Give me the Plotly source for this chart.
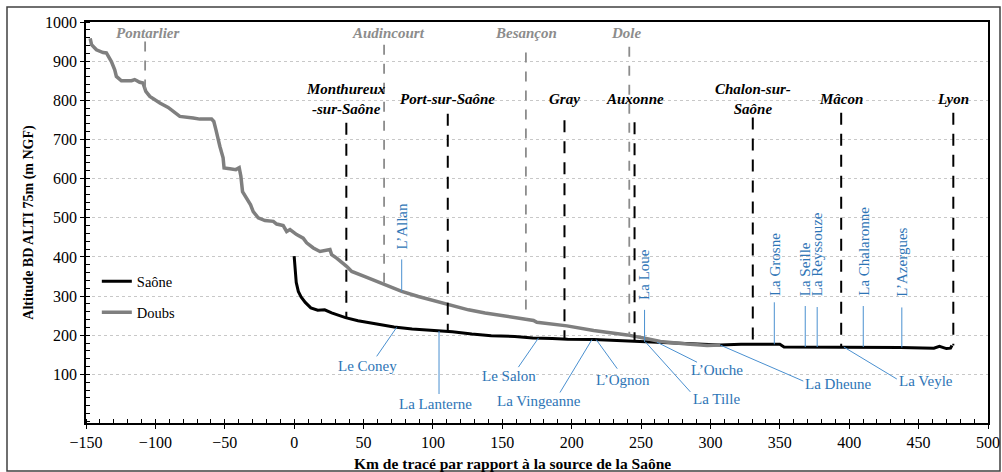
import numpy as np
import plotly.graph_objects as go

# ---------------- data ----------------
saone_km = [0, 0.5, 1.5, 3, 5, 8, 12, 17, 22, 27, 32, 37, 46, 58, 72, 85, 99, 114, 128,
            142, 159, 172, 186, 197, 216, 230, 245, 264, 283, 307, 322, 340, 350, 353,
            370, 394, 415, 437, 461, 465, 470, 473, 474]
saone_alt = [402, 370, 335, 312, 298, 284, 270, 264, 265, 257, 250, 245, 237, 230, 221,
             216, 212, 209, 203, 199, 197, 193, 192, 190, 189, 187, 184, 182, 178, 175,
             177, 177, 177, 170, 170, 170, 170, 169, 167, 172, 166, 167, 174]

doubs_km = [-147, -146, -142.5, -137.7, -135.3, -131.7, -129.3, -128.1, -124.5, -117.2,
            -114.9, -111.3, -108.9, -106.9, -104, -96.8, -90.8, -86, -82.4, -72.8, -68,
            -59.5, -57.9, -56.4, -55.5, -53.5, -51.2, -50.5, -46.3, -42, -39.6, -38.4,
            -37.2, -33.8, -31.4, -29.5, -25.9, -21, -15, -12.6, -7.9, -5.4, -3, 1.8, 6.5,
            9, 13.8, 18.6, 25.8, 27, 30.6, 37.8, 41.5, 51, 65.5, 77.5, 89.5, 101.6, 111.1,
            125.6, 137.6, 149.7, 162.9, 172.5, 174.9, 196.6, 215.8, 239.9, 251.8, 263.9,
            283.1, 297.6, 307]
doubs_alt = [958, 942, 929, 922, 921, 899, 878, 861, 850, 850, 853, 846, 844, 823, 810,
             793, 782, 768, 759, 755, 752, 752, 746, 725, 708, 682, 653, 627, 625, 623,
             628, 606, 567, 546, 533, 516, 500, 493, 491, 484, 480, 465, 470, 457, 448,
             436, 423, 414, 419, 406, 397, 376, 363, 350, 329, 312, 299, 287, 278, 265,
             257, 250, 244, 238, 233, 224, 212, 201, 193, 184, 178, 174, 175]

saone_cities = ["Monthureux<br>-sur-Saône", "Port-sur-Saône", "Gray", "Auxonne",
                "Chalon-sur-<br>Saône", "Mâcon", "Lyon"]
saone_city_km = [37.6, 110.7, 194.8, 245.3, 330.5, 394.2, 475]

doubs_cities = ["Pontarlier", "Audincourt", "Besançon", "Dole"]
doubs_city_km = [-107.4, 64.8, 167, 241.5]

trib_low_names = ["Le Coney", "La Lanterne", "Le Salon", "La Vingeanne", "L’Ognon",
                  "La Tille", "L’Ouche", "La Dheune", "La Veyle"]
trib_low_km = [73.9, 104.4, 176, 214.6, 217.7, 253.1, 261.5, 307.1, 396.1]

trib_up_names = ["La Loue", "La Grosne", "La Seille", "La Reyssouze", "La Chalaronne",
                 "L’Azergues"]
trib_up_km = [252.5, 346, 368.3, 376.9, 410.1, 437.9]

doubs_trib_names = ["L’Allan"]
doubs_trib_km = [77.5]

x_ticks = list(range(-150, 501, 50))
y_ticks = list(range(100, 1001, 100))

# ---------------- layout parameters (pixels) ----------------
low_text_off = [(-29, 39), (-4, 73), (-29, 38), (-53, 61), (27, 40), (71, 57), (60, 28),
                (118, 39), (82, 34)]
low_leader_off = [(-20, 29), (0, 63), (-20, 29), (-32, 53), (21, 29), (45, 50), (40, 20),
                  (83, 36), (53, 32)]
up_leader_len = [32, 42, 41, 40, 41, 40]
up_text_off = [40, 46, 49, 49, 49, 49]
doubs_trib_leader = [32]
doubs_trib_text = [40]

saone_line_top = [743, 766, 749, 744, 756, 768, 768]
doubs_line_top = [950, 942, 922, 937]
doubs_label_xshift = [3, 4, 0, -3]

SERIF = "Liberation Serif"
BLUE = "#2e75b6"
LEADER = "#4a90d0"
GREY_LINE = "#7f7f7f"
LABEL_SIZE = 15

fig = go.Figure()
fig.add_trace(go.Scatter(x=saone_km, y=saone_alt, mode="lines", name="Saône",
                         line=dict(color="black", width=3), legendgroup="s"))
fig.add_trace(go.Scatter(x=doubs_km, y=doubs_alt, mode="lines", name="Doubs",
                         line=dict(color=GREY_LINE, width=3.5), legendgroup="d"))

shapes = []
annotations = []

# Saône cities
for name, km, top in zip(saone_cities, saone_city_km, saone_line_top):
    bottom = float(np.interp(km, saone_km, saone_alt))
    shapes.append(dict(type="line", xref="x", yref="y", x0=km, x1=km, y0=top, y1=bottom,
                       line=dict(color="black", width=2, dash="12px,9px")))
    annotations.append(dict(x=km, y=804, xref="x", yref="y", text=name, showarrow=False,
                            xanchor="center", yanchor="middle",
                            font=dict(family=SERIF, size=LABEL_SIZE, color="black",
                                      style="italic", weight="bold")))

# Doubs cities
for name, km, top, xs in zip(doubs_cities, doubs_city_km, doubs_line_top, doubs_label_xshift):
    bottom = float(np.interp(km, doubs_km, doubs_alt))
    shapes.append(dict(type="line", xref="x", yref="y", x0=km, x1=km, y0=top, y1=bottom,
                       line=dict(color="#8c8c8c", width=1.8, dash="10px,9px")))
    annotations.append(dict(x=km, y=973, xref="x", yref="y", text=name, showarrow=False,
                            xanchor="center", yanchor="middle", xshift=xs,
                            font=dict(family=SERIF, size=LABEL_SIZE, color="#8c8c8c",
                                      style="italic", weight="bold")))

# lower tributaries with slanted leaders
for name, km, (tdx, tdy), (ldx, ldy) in zip(trib_low_names, trib_low_km, low_text_off,
                                            low_leader_off):
    alt = float(np.interp(km, saone_km, saone_alt))
    shapes.append(dict(type="line", xref="x", yref="y", xsizemode="pixel",
                       ysizemode="pixel", xanchor=km, yanchor=alt, x0=0, y0=0,
                       x1=ldx, y1=-ldy, line=dict(color=LEADER, width=1)))
    annotations.append(dict(x=km, y=alt, xref="x", yref="y", text=name, showarrow=False,
                            xanchor="center", yanchor="middle", xshift=tdx, yshift=-tdy,
                            font=dict(family=SERIF, size=LABEL_SIZE, color=BLUE)))


def vertical_label(name, km, alt, llen, toff):
    shapes.append(dict(type="line", xref="x", yref="y", xsizemode="pixel",
                       ysizemode="pixel", xanchor=km, yanchor=alt, x0=0, y0=0,
                       x1=0, y1=llen, line=dict(color=LEADER, width=1)))
    annotations.append(dict(x=km, y=alt, xref="x", yref="y", text=name, showarrow=False,
                            textangle=-90, xanchor="center", yanchor="bottom",
                            yshift=toff, font=dict(family=SERIF, size=LABEL_SIZE, color=BLUE)))


for name, km, llen, toff in zip(trib_up_names, trib_up_km, up_leader_len, up_text_off):
    vertical_label(name, km, float(np.interp(km, saone_km, saone_alt)), llen, toff)

for name, km, llen, toff in zip(doubs_trib_names, doubs_trib_km, doubs_trib_leader,
                                doubs_trib_text):
    vertical_label(name, km, float(np.interp(km, doubs_km, doubs_alt)), llen, toff)

# x-axis title (slightly left of centre as in the original)
annotations.append(dict(x=0.4725, y=-0.1, xref="paper", yref="paper", yanchor="middle",
                        text="Km de tracé par rapport à la source de la Saône",
                        showarrow=False,
                        font=dict(family=SERIF, size=15.5, color="black", weight="bold")))

# outer frame
W, H = 1002, 472
L, R, T, B = 86, 14, 22, 49
pw, ph = W - L - R, H - T - B
shapes.append(dict(type="rect", xref="paper", yref="paper",
                   x0=(7 - L) / pw, x1=(1000 - L) / pw,
                   y0=(H - B - 471) / ph, y1=(H - B - 7) / ph,
                   line=dict(color="#404040", width=1.5), layer="below"))

fig.update_layout(
    width=W, height=H,
    margin=dict(l=L, r=R, t=T, b=B, autoexpand=False),
    paper_bgcolor="white", plot_bgcolor="white",
    font=dict(family=SERIF, size=14, color="black"),
    shapes=shapes, annotations=annotations,
    showlegend=True,
    legend=dict(x=0.012, y=0.393, xanchor="left", yanchor="top",
                bgcolor="rgba(0,0,0,0)", tracegroupgap=9,
                font=dict(family=SERIF, size=14.5, color="black")),
    xaxis=dict(range=[-150, 500], tickvals=x_ticks, showgrid=False, zeroline=False,
               showline=True, linecolor="black", linewidth=1.5, mirror=True,
               ticks="outside", ticklen=4, tickcolor="black",
               minor=dict(dtick=10, ticks="inside", ticklen=4, tickcolor="black"),
               tickfont=dict(family=SERIF, size=16, color="black")),
    yaxis=dict(range=[-24, 1000], tickvals=y_ticks, showgrid=True, gridcolor="#c8c8c8",
               griddash="dot", gridwidth=1, zeroline=False,
               showline=True, linecolor="black", linewidth=1.5, mirror=True,
               ticks="outside", ticklen=4, tickcolor="black",
               minor=dict(dtick=20, tick0=0, ticks="inside", ticklen=4, tickcolor="black"),
               tickfont=dict(family=SERIF, size=16, color="black"),
               title=dict(text="Altitude BD ALTI 75m (m NGF)", standoff=8,
                          font=dict(family=SERIF, size=14, color="black", weight="bold"))),
)

fig.write_html("out.html", config={"displayModeBar": False},
               post_script="document.body.style.margin='0';document.body.style.overflow='hidden';")
